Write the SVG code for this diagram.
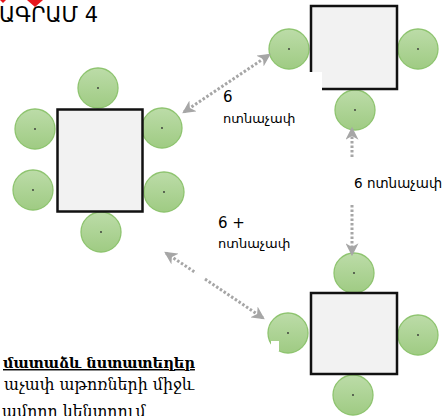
<svg xmlns="http://www.w3.org/2000/svg" width="446" height="416" viewBox="0 0 446 416">
<defs>
<linearGradient id="g" x1="0" y1="0" x2="0" y2="1">
<stop offset="0" stop-color="#bcdca8"/>
<stop offset="1" stop-color="#9fcb83"/>
</linearGradient>
<marker id="ah" viewBox="0 0 12 12" refX="10" refY="6" markerWidth="13" markerHeight="13" markerUnits="userSpaceOnUse" orient="auto-start-reverse">
<path d="M0,0 L12,6 L0,12 L3.5,6 Z" fill="#a6a6a6"/>
</marker>
<style>
.chair{fill:url(#g);stroke:#8ec46f;stroke-width:1.3}
.dot{fill:#333}
.tbl{fill:#f2f2f2;stroke:#111;stroke-width:2.5}
.conn{fill:none;stroke:#a6a6a6;stroke-width:3;stroke-dasharray:2.5 2}
.lbl{font-family:"DejaVu Sans","Noto Sans",sans-serif;fill:#000}
.note{font-family:"DejaVu Serif","Liberation Serif",serif;fill:#000}
</style>
</defs>
<rect width="446" height="416" fill="#fff"/>

<g id="title">
<path d="M0,0 H6 L3,3 Z" fill="#e8161b"/>
<path d="M27,0 H43 L35,7 Z" fill="#e8161b"/>
<text x="-1" y="22" class="lbl" font-size="21">ԱԳՐԱՄ 4</text>
</g>

<g id="table-left">
<circle class="chair" cx="98" cy="88" r="20"/><circle class="dot" cx="98" cy="88" r="0.9"/>
<circle class="chair" cx="35" cy="129" r="20"/><circle class="dot" cx="35" cy="129" r="0.9"/>
<circle class="chair" cx="33" cy="190" r="20"/><circle class="dot" cx="33" cy="190" r="0.9"/>
<circle class="chair" cx="162" cy="128" r="20"/><circle class="dot" cx="162" cy="128" r="0.9"/>
<circle class="chair" cx="164" cy="192" r="20"/><circle class="dot" cx="164" cy="192" r="0.9"/>
<circle class="chair" cx="101" cy="232" r="20"/><circle class="dot" cx="101" cy="232" r="0.9"/>
<rect class="tbl" x="57.5" y="109.5" width="85" height="102"/>
</g>

<g id="table-top-right">
<circle class="chair" cx="289" cy="49" r="20"/><circle class="dot" cx="289" cy="49" r="0.9"/>
<circle class="chair" cx="418" cy="49" r="20"/><circle class="dot" cx="418" cy="49" r="0.9"/>
<circle class="chair" cx="355" cy="110" r="20"/><circle class="dot" cx="355" cy="110" r="0.9"/>
<path d="M311,6 H397 V89 H322 V72 H311 Z" fill="#f2f2f2"/>
<path d="M311,72 V6 H397 V89 H322" fill="none" stroke="#111" stroke-width="2.5"/>
</g>

<g id="table-bottom-right">
<circle class="chair" cx="354" cy="273" r="20"/><circle class="dot" cx="354" cy="273" r="0.9"/>
<circle class="chair" cx="288" cy="333" r="20"/><circle class="dot" cx="288" cy="333" r="0.9"/>
<rect x="271" y="341" width="8" height="10" fill="#fff"/>
<circle class="chair" cx="418" cy="335" r="20"/><circle class="dot" cx="418" cy="335" r="0.9"/>
<circle class="chair" cx="353" cy="395" r="20"/><circle class="dot" cx="353" cy="395" r="0.9"/>
<rect class="tbl" x="311" y="293" width="86" height="81"/>
</g>

<g id="connectors">
<line class="conn" x1="184" y1="112" x2="269" y2="55" marker-start="url(#ah)" marker-end="url(#ah)"/>
<line class="conn" x1="352" y1="157" x2="352" y2="129" marker-end="url(#ah)"/>
<line class="conn" x1="352" y1="205" x2="352" y2="254" marker-end="url(#ah)"/>
<line class="conn" x1="166" y1="253" x2="196" y2="273" marker-start="url(#ah)"/>
<line class="conn" x1="205" y1="279" x2="263" y2="318" marker-end="url(#ah)"/>
</g>

<g id="labels">
<text x="223" y="102" class="lbl" font-size="15">6</text>
<text x="223" y="123" class="lbl" font-size="13">ոտնաչափ</text>
<text x="354" y="188" class="lbl" font-size="13.5">6 ոտնաչափ</text>
<text x="218" y="228" class="lbl" font-size="15">6 +</text>
<text x="218" y="248" class="lbl" font-size="13">ոտնաչափ</text>
</g>

<g id="note">
<text x="3" y="368" class="note" font-size="14.5" font-weight="bold" text-decoration="underline">մատաձև նստատեղեր</text>
<text x="4" y="390" class="note" font-size="15.8">աչափ աթոռների միջև</text>
<text x="2" y="417" class="note" font-size="15.8">ամրոր կենտրում</text>
</g>
</svg>
